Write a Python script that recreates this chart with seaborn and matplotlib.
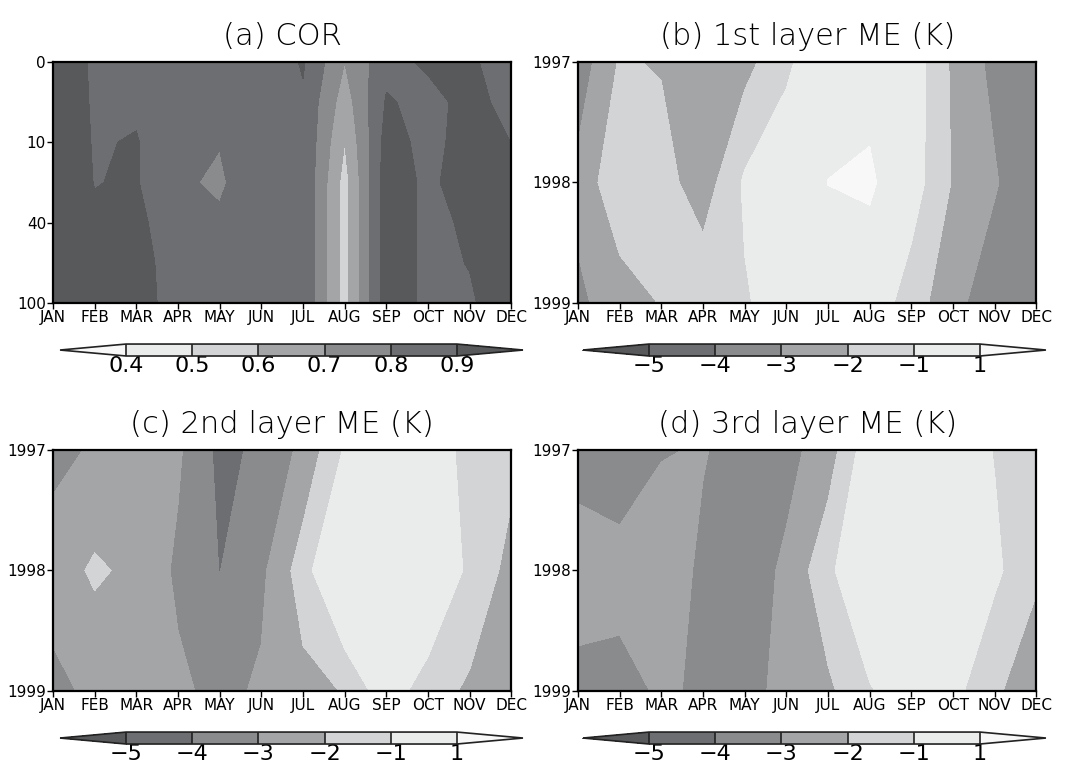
import numpy as np
import seaborn as sns
import matplotlib
matplotlib.use("Agg")
import matplotlib.pyplot as plt

sns.set_theme(style="ticks")
plt.rcParams['font.family'] = ['DejaVu Sans']
plt.rcParams['text.color'] = 'black'

months = ["JAN", "FEB", "MAR", "APR", "MAY", "JUN", "JUL", "AUG", "SEP", "OCT", "NOV", "DEC"]
depths = [0, 5, 10, 20, 40, 70, 100]
depth_ticks = [0, 10, 40, 100]
years = [1997, 1998, 1999]

# (a) correlation, one row per depth level, JAN..DEC
cor = np.array([
    [0.95, 0.889, 0.86, 0.85, 0.83, 0.82, 0.91, 0.70, 0.87, 0.915, 0.915, 0.85],
    [0.95, 0.892, 0.89, 0.85, 0.83, 0.84, 0.886, 0.65, 0.91, 0.87, 0.93, 0.87],
    [0.95, 0.895, 0.904, 0.85, 0.8025, 0.84, 0.89, 0.60, 0.94, 0.87, 0.94, 0.899],
    [0.95, 0.898, 0.907, 0.81, 0.79, 0.85, 0.89, 0.56, 0.955, 0.88, 0.949, 0.93],
    [0.95, 0.91, 0.92, 0.85, 0.81, 0.84, 0.89, 0.56, 0.955, 0.88, 0.912, 0.94],
    [0.95, 0.93, 0.94, 0.85, 0.83, 0.84, 0.89, 0.56, 0.955, 0.88, 0.903, 0.95],
    [0.95, 0.94, 0.96, 0.84, 0.83, 0.84, 0.89, 0.56, 0.955, 0.88, 0.89, 0.95],
])

# (b)-(d) mean error (K), rows 1997, 1998, 1999
me_layer1 = np.array([
    [-3.6, -1.9, -2.08, -2.6, -2.35, -1.2, -0.1, 0.3, -0.39, -2.18, -3.29, -3.5],
    [-2.7, -1.24, -1.58, -2.56, -0.85, -0.29, 1.03, 1.3, -0.49, -2.08, -2.9, -3.9],
    [-3.2, -2.5, -1.95, -1.23, -1.1, -0.5, -0.3, -0.3, -1.5, -2.7, -3.6, -3.6],
])
me_layer2 = np.array([
    [-3.3, -2.88, -2.6, -2.85, -4.25, -3.82, -2.76, -0.9, -0.2, -0.3, -1.38, -1.75],
    [-2.49, -1.85, -2.23, -3.18, -4.02, -3.22, -1.5, 0.77, 0.5, 0.5, -1.3, -2.3],
    [-3.3, -2.75, -2.5, -2.82, -3.27, -2.86, -2.3, -1.95, -0.34, -1.6, -2.15, -2.6],
])
me_layer3 = np.array([
    [-3.4, -3.5, -3.1, -2.9, -3.6, -3.3, -2.53, -0.3, -0.2, -0.3, -1.05, -1.5],
    [-2.5, -2.7, -2.1, -3.3, -3.5, -2.83, -1.26, 0.27, 0.3, 0.2, -0.8, -1.8],
    [-3.3, -3.26, -2.9, -3.1, -3.5, -2.56, -2.2, -1.1, -0.3, -0.7, -1.8, -2.8],
])

cor_levels = [0.4, 0.5, 0.6, 0.7, 0.8, 0.9]
me_levels = [-5, -4, -3, -2, -1, 1]

grays = sns.color_palette(["#f8f8f8", "#eaebeb", "#d3d4d5", "#a4a5a7",
                           "#8a8b8d", "#6d6e71", "#58595b"])
cor_colors = list(grays)
me_colors = list(grays)[::-1]

fig = plt.figure(figsize=(10.66, 7.62), dpi=100)

panels = [
    ("(a) COR", cor, cor_levels, cor_colors, [0.0497, 0.6024], [0.0563, 0.5328]),
    ("(b) 1st layer ME (K)", me_layer1, me_levels, me_colors, [0.5422, 0.6024], [0.5469, 0.5328]),
    ("(c) 2nd layer ME (K)", me_layer2, me_levels, me_colors, [0.0497, 0.0932], [0.0563, 0.0236]),
    ("(d) 3rd layer ME (K)", me_layer3, me_levels, me_colors, [0.5422, 0.0932], [0.5469, 0.0236]),
]

x = np.arange(len(months))
for i, (title, z, levels, colors, pos, cpos) in enumerate(panels):
    ax = fig.add_axes([pos[0], pos[1], 0.4300, 0.3163])
    y = np.arange(z.shape[0])
    cs = ax.contourf(x, y, z, levels=levels, colors=colors, extend="both")
    ax.set_xlim(0, 11)
    ax.set_ylim(y[-1], 0)
    ax.set_xticks(x)
    ax.set_xticklabels(months)
    if i == 0:
        ax.set_yticks([depths.index(d) for d in depth_ticks])
        ax.set_yticklabels([str(d) for d in depth_ticks])
    else:
        ax.set_yticks(y)
        ax.set_yticklabels([str(v) for v in years])
    ax.tick_params(direction="out", length=4, width=1, pad=1, labelsize=11,
                   colors="black", labelcolor="black")
    for sp in ax.spines.values():
        sp.set_linewidth(1.6)
        sp.set_color("black")
    ax.set_title(title, fontsize=22, fontweight="light", pad=12, color="black")

    cax = fig.add_axes([cpos[0], cpos[1], 0.4343, 0.0157])
    cb = fig.colorbar(cs, cax=cax, orientation="horizontal", drawedges=True,
                      extendfrac=0.2, ticks=levels)
    cb.outline.set_linewidth(1.2)
    cb.outline.set_edgecolor("#222222")
    cb.dividers.set_linewidth(1.2)
    cb.dividers.set_color("#222222")
    cax.tick_params(length=0, pad=0, labelsize=16, labelcolor="black")
    if i == 0:
        cb.set_ticklabels([f"{v:.1f}" for v in levels])
    else:
        cb.set_ticklabels([f"{v:d}".replace("-", "\u2212") for v in levels])

fig.savefig("out.png", dpi=100)
